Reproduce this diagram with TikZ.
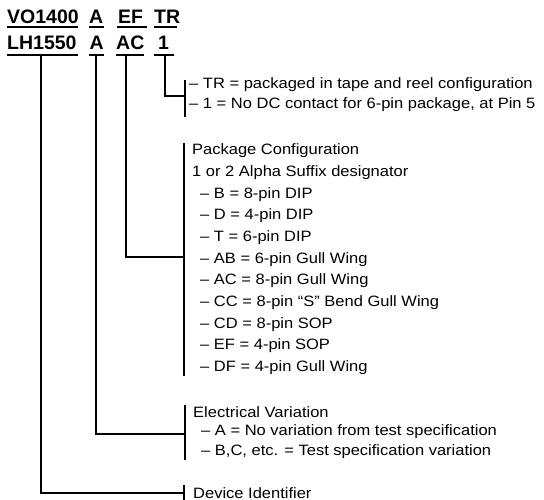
\documentclass[tikz,border=0pt]{standalone}
\usepackage{fontspec}
\setmainfont{Liberation Sans}
\newfontfamily\widesans[FakeStretch=1.1]{Liberation Sans}
\begin{document}
\begin{tikzpicture}[x=1pt,y=-1pt,
  conn/.style={line width=1.1pt,line cap=rect},
  barline/.style={line width=1.1pt},
  hdr/.style={anchor=base west,inner sep=0pt,font=\fontsize{19.5}{22}\selectfont\bfseries},
  desc/.style={anchor=west,inner sep=0pt,font=\widesans\fontsize{15}{17}\selectfont}]
\useasboundingbox (0,0) rectangle (544,500);
\clip (0,0) rectangle (544,500);
% header row 1
\node[hdr] (v1) at (7,24) {VO1400};
\node[hdr] (a1) at (89,24) {A};
\node[hdr] (e1) at (118,24) {EF};
\node[hdr] (t1) at (154,24) {TR};
% header row 2
\node[hdr] (l2) at (7,50) {LH1550};
\node[hdr] (a2) at (89.5,50) {A};
\node[hdr] (c2) at (116,50) {AC};
\node[hdr] (o2) at (158,50) {1};
% underlines row 1
\coordinate (u1a) at (7,27);   \coordinate (u1b) at (78,27);
\coordinate (u2a) at (89,27);  \coordinate (u2b) at (104,27);
\coordinate (u3a) at (117,27); \coordinate (u3b) at (147,27);
\coordinate (u4a) at (154,27); \coordinate (u4b) at (177,27);
\draw[barline] (u1a) -- (u1b);
\draw[barline] (u2a) -- (u2b);
\draw[barline] (u3a) -- (u3b);
\draw[barline] (u4a) -- (u4b);
% underlines row 2
\coordinate (ul) at (7,55);  \coordinate (ur) at (78,55);
\coordinate (ual) at (89,55); \coordinate (uar) at (104,55);
\coordinate (ucl) at (116,55); \coordinate (ucr) at (144,55);
\coordinate (uol) at (154,55); \coordinate (uor) at (174,55);
\draw[barline] (ul) -- (ur);
\draw[barline] (ual) -- (uar);
\draw[barline] (ucl) -- (ucr);
\draw[barline] (uol) -- (uor);
% stems
\coordinate (sL) at (41,55);  \coordinate (sA) at (96,55);
\coordinate (sC) at (126,55); \coordinate (sO) at (165,55);
% brackets
\coordinate (bTt) at (185,80);  \coordinate (bTb) at (185,117);
\coordinate (bPt) at (184,143); \coordinate (bPb) at (184,376);
\coordinate (bEt) at (185,405); \coordinate (bEb) at (185,460);
\coordinate (bDt) at (184,485); \coordinate (bDb) at (184,510);
\draw[barline] (bTt) -- (bTb);
\draw[barline] (bPt) -- (bPb);
\draw[barline] (bEt) -- (bEb);
\draw[barline] (bDt) -- (bDb);
% connectors
\coordinate (jT) at (185,96);
\coordinate (jP) at (184,257);
\coordinate (jE) at (185,434);
\coordinate (jD) at (184,493);
\draw[conn] (sO) |- (jT);
\draw[conn] (sC) |- (jP);
\draw[conn] (sA) |- (jE);
\draw[conn] (sL) |- (jD);
% texts
\node[desc] (tr1) at (189,85) {– TR = packaged in tape and reel configuration};
\node[desc] (tr2) at (189,105) {– 1 = No DC contact for 6-pin package, at Pin 5};
\node[desc] (p0) at (192,151) {Package Configuration};
\node[desc] (p1) at (192,173) {1 or 2 Alpha Suffix designator};
\node[desc] (p2) at (200,195) {– B = 8-pin DIP};
\node[desc] (p3) at (200,216) {– D = 4-pin DIP};
\node[desc] (p4) at (200,238) {– T = 6-pin DIP};
\node[desc] (p5) at (200,260) {– AB = 6-pin Gull Wing};
\node[desc] (p6) at (200,281) {– AC = 8-pin Gull Wing};
\node[desc] (p7) at (200,303) {– CC = 8-pin “S” Bend Gull Wing};
\node[desc] (p8) at (200,325) {– CD = 8-pin SOP};
\node[desc] (p9) at (200,346) {– EF = 4-pin SOP};
\node[desc] (p10) at (200,368) {– DF = 4-pin Gull Wing};
\node[desc] (e0) at (193,412) {Electrical Variation};
\node[desc] (e1t) at (201,432) {– A = No variation from test specification};
\node[desc] (e2t) at (201,452) {– B,C, etc. = Test specification variation};
\node[desc] (d0) at (193,493) {Device Identifier};
\end{tikzpicture}
\end{document}
